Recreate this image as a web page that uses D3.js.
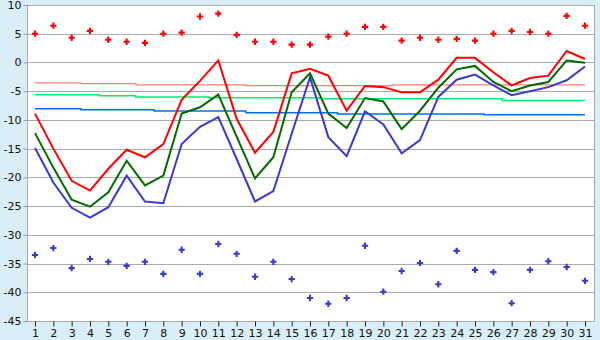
<!DOCTYPE html>
<html lang="en">
<head>
<meta charset="utf-8">
<title>Daily temperatures</title>
<script src="https://cdn.jsdelivr.net/npm/d3@7"></script>
<style>
  body { margin: 0; background: #d9eef6; }
  svg { display: block; }
  .tick text { font-family: "DejaVu Sans", Verdana, sans-serif; font-size: 11px; fill: #111; }
</style>
</head>
<body>
<div id="chart"></div>
<script>
  var days = d3.range(1, 32)

  var recordMax = [5.0, 6.4, 4.3, 5.5, 3.95, 3.6, 3.4, 5.0, 5.2, 8.0,
                   8.5, 4.8, 3.6, 3.6, 3.1, 3.1, 4.5, 5.0, 6.2, 6.2,
                   3.8, 4.3, 3.95, 4.1, 3.8, 5.0, 5.5, 5.3, 5.0, 8.1, 6.4]
  var recordMin = [-33.5, -32.3, -35.8, -34.2, -34.7, -35.4, -34.7, -36.8, -32.6, -36.8,
                   -31.6, -33.3, -37.3, -34.7, -37.7, -41.0, -42.0, -41.0, -31.9, -39.9,
                   -36.3, -34.9, -38.6, -32.8, -36.1, -36.5, -41.9, -36.1, -34.6, -35.6, -38.0]

  var maxTemp = [-8.9, -15.0, -20.6, -22.3, -18.5, -15.2, -16.5, -14.2, -6.5, -3.2,
                 0.35, -9.8, -15.7, -12.1, -1.9, -1.1, -2.3, -8.4, -4.1, -4.3,
                 -5.2, -5.2, -3.0, 0.8, 0.8, -1.7, -4.0, -2.7, -2.3, 2.0, 0.6]
  var meanTemp = [-12.3, -18.3, -23.9, -25.1, -22.6, -17.1, -21.4, -19.7, -8.9, -7.8,
                  -5.6, -12.9, -20.2, -16.5, -5.2, -1.9, -8.9, -11.4, -6.2, -6.8,
                  -11.6, -8.4, -4.4, -1.2, -0.6, -3.4, -5.0, -4.0, -3.4, 0.35, -0.05]
  var minTemp = [-14.9, -20.9, -25.3, -27.0, -25.2, -19.7, -24.2, -24.5, -14.2, -11.2,
                 -9.5, -16.8, -24.2, -22.4, -12.4, -2.6, -13.0, -16.3, -8.5, -10.8,
                 -15.8, -13.5, -6.0, -3.0, -2.1, -4.0, -5.7, -5.0, -4.3, -3.1, -0.7]

  var normMax = [-3.55, -3.55, -3.55, -3.7, -3.7, -3.7, -3.9, -3.9, -3.9, -3.9,
                 -3.9, -3.9, -4.05, -4.05, -4.05, -4.05, -4.05, -4.05, -4.05, -4.05,
                 -3.9, -3.9, -3.9, -3.9, -3.9, -3.9, -3.9, -3.9, -3.9, -3.9, -3.9]
  var normMean = [-5.6, -5.6, -5.6, -5.6, -5.8, -5.8, -6.0, -6.0, -6.0, -6.0,
                  -6.15, -6.15, -6.15, -6.15, -6.15, -6.15, -6.3, -6.3, -6.3, -6.3,
                  -6.3, -6.3, -6.3, -6.3, -6.3, -6.3, -6.6, -6.6, -6.6, -6.6, -6.6]
  var normMin = [-8.05, -8.05, -8.05, -8.25, -8.25, -8.25, -8.25, -8.45, -8.45, -8.45,
                 -8.45, -8.45, -8.75, -8.75, -8.75, -8.75, -8.75, -8.95, -8.95, -8.95,
                 -8.95, -8.95, -8.95, -8.95, -8.95, -9.1, -9.1, -9.1, -9.1, -9.1, -9.1]

  var yTicks = d3.range(-45, 11, 5)

  var width = 600, height = 340
  var plotLeft = 27, plotRight = 595, plotTop = 5, plotBottom = 321

  var svg = d3.select("#chart").append("svg").attr("width", width).attr("height", height)

  var x = d3.scaleLinear().domain([1, 31]).range([35, 585])
  var y = d3.scaleLinear().domain([-45, 10]).range([plotBottom, plotTop])

  // plot background
  svg.append("rect")
    .attr("x", plotLeft).attr("y", plotTop)
    .attr("width", plotRight - plotLeft).attr("height", plotBottom - plotTop)
    .attr("fill", "#fff")

  // gridlines
  svg.append("g").selectAll("line")
    .data(yTicks)
    .enter()
    .append("line")
    .attr("x1", plotLeft).attr("x2", plotRight)
    .attr("y1", function(d){ return Math.round(y(d)) + 0.5 })
    .attr("y2", function(d){ return Math.round(y(d)) + 0.5 })
    .attr("stroke", "#aaa")

  // frame
  svg.append("rect")
    .attr("x", plotLeft + 0.5).attr("y", plotTop + 0.5)
    .attr("width", plotRight - plotLeft - 1).attr("height", plotBottom - plotTop)
    .attr("fill", "none")
    .attr("stroke", "#aaa")

  var yAxis = svg.append("g")
    .attr("transform", "translate(" + (plotLeft + 0.5) + ",0)")
    .call(d3.axisLeft(y).tickValues(yTicks).tickFormat(function(d){ return String(d) }).tickSize(4).tickPadding(2))
  yAxis.select(".domain").remove()
  yAxis.selectAll(".tick line").attr("stroke", "#999")

  var xAxis = svg.append("g")
    .attr("transform", "translate(0," + (plotBottom + 0.5) + ")")
    .call(d3.axisBottom(x).tickValues(days).tickFormat(d3.format("d")).tickSize(5).tickPadding(3))
  xAxis.select(".domain").remove()
  xAxis.selectAll(".tick line").attr("stroke", "#222")

  function drawLine(values, color, w, curve) {
    var line = d3.line()
      .x(function(d, i){ return x(days[i]) })
      .y(function(d){ return y(d) })
      .curve(curve || d3.curveLinear)
    svg.append("path")
      .datum(values)
      .attr("d", line)
      .attr("fill", "none")
      .attr("stroke", color)
      .attr("stroke-width", w)
  }

  drawLine(normMax, "#ff7f7f", 1.2, d3.curveStep)
  drawLine(normMean, "#00ee6e", 1.5, d3.curveStep)
  drawLine(normMin, "#0070f0", 1.5, d3.curveStep)

  drawLine(minTemp, "#3a3acc", 2)
  drawLine(meanTemp, "#006a00", 2)
  drawLine(maxTemp, "#ff0000", 2)

  function drawMarks(values, color) {
    svg.append("g").selectAll("path")
      .data(values)
      .enter()
      .append("path")
      .attr("d", d3.symbol().type(d3.symbolCross).size(22))
      .attr("transform", function(d, i){ return "translate(" + x(days[i]) + "," + y(d) + ")" })
      .attr("fill", color)
  }

  drawMarks(recordMax, "#ff0000")
  drawMarks(recordMin, "#3a3acc")
</script>
</body>
</html>
